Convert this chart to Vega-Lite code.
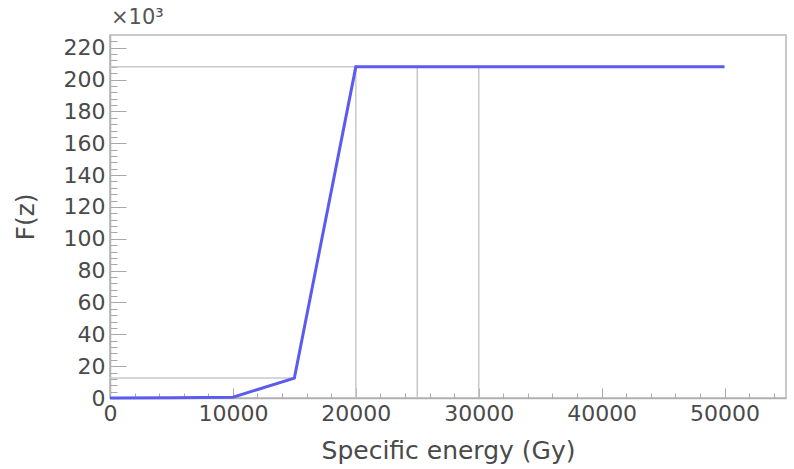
{
  "$schema": "https://vega.github.io/schema/vega-lite/v6.json",
  "width": 676,
  "height": 363,
  "autosize": {"type": "none"},
  "padding": {"left": 110, "top": 35, "right": 8, "bottom": 71},
  "background": "white",
  "title": {"text": "×10³", "anchor": "start", "frame": "group", "font": "DejaVu Sans", "fontSize": 21, "fontWeight": "normal", "color": "#555555", "offset": 2, "dx": 1},
  "config": {
    "view": {"stroke": "#b8b8b8", "strokeWidth": 1.5},
    "axis": {"grid": false, "domainColor": "#b0b0b0", "domainWidth": 1.5, "tickColor": "#a8a8a8", "tickWidth": 1, "labelFont": "DejaVu Sans", "labelFontSize": 22, "labelColor": "#4a4a4a", "titleFont": "DejaVu Sans", "titleFontSize": 25, "titleFontWeight": "normal", "titleColor": "#4a4a4a"}
  },
  "datasets": {
    "curve": [
      {"z": 0, "F": 0},
      {"z": 5000, "F": 200},
      {"z": 10000, "F": 500},
      {"z": 15000, "F": 12500},
      {"z": 20000, "F": 208000},
      {"z": 25000, "F": 208000},
      {"z": 30000, "F": 208000},
      {"z": 35000, "F": 208000},
      {"z": 40000, "F": 208000},
      {"z": 45000, "F": 208000},
      {"z": 50000, "F": 208000}
    ],
    "hlines": [
      {"z": 0, "z2": 20000, "F": 208000},
      {"z": 0, "z2": 15000, "F": 12500}
    ],
    "vlines": [
      {"z": 20000, "F": 0, "F2": 208000},
      {"z": 25000, "F": 0, "F2": 208000},
      {"z": 30000, "F": 0, "F2": 208000}
    ]
  },
  "layer": [
    {
      "data": {"name": "hlines"},
      "mark": {"type": "rule", "color": "#c8c8c8", "strokeWidth": 1.5},
      "encoding": {
        "x": {"field": "z", "type": "quantitative"},
        "x2": {"field": "z2"},
        "y": {"field": "F", "type": "quantitative"}
      }
    },
    {
      "data": {"name": "vlines"},
      "mark": {"type": "rule", "color": "#c8c8c8", "strokeWidth": 1.5},
      "encoding": {
        "x": {"field": "z", "type": "quantitative"},
        "y": {"field": "F", "type": "quantitative"},
        "y2": {"field": "F2"}
      }
    },
    {
      "data": {"name": "curve"},
      "mark": {"type": "line", "color": "#5b5bee", "strokeWidth": 3, "strokeJoin": "miter"},
      "encoding": {
        "x": {
          "field": "z", "type": "quantitative",
          "scale": {"domain": [0, 55000], "nice": false, "zero": false},
          "title": "Specific energy (Gy)",
          "axis": {
            "values": [0,2000,4000,6000,8000,10000,12000,14000,16000,18000,20000,22000,24000,26000,28000,30000,32000,34000,36000,38000,40000,42000,44000,46000,48000,50000,52000,54000],
            "tickCount": 200,
            "format": "d",
            "labelExpr": "datum.value % 10000 === 0 ? datum.label : ''",
            "tickSize": {"condition": {"test": "datum.value % 10000 === 0", "value": -10}, "value": -5},
            "labelPadding": 15,
            "labelOverlap": false,
            "labelFlush": false,
            "titlePadding": 9
          }
        },
        "y": {
          "field": "F", "type": "quantitative",
          "scale": {"domain": [0, 228000], "nice": false, "zero": false},
          "title": "F(z)",
          "axis": {
            "values": [0,4000,8000,12000,16000,20000,24000,28000,32000,36000,40000,44000,48000,52000,56000,60000,64000,68000,72000,76000,80000,84000,88000,92000,96000,100000,104000,108000,112000,116000,120000,124000,128000,132000,136000,140000,144000,148000,152000,156000,160000,164000,168000,172000,176000,180000,184000,188000,192000,196000,200000,204000,208000,212000,216000,220000,224000],
            "tickCount": 200,
            "labelExpr": "datum.value % 20000 === 0 ? format(datum.value / 1000, 'd') : ''",
            "tickSize": {"condition": {"test": "datum.value % 20000 === 0", "value": -16}, "value": -7},
            "labelPadding": 21,
            "labelOverlap": false,
            "labelFlush": false,
            "titlePadding": 25
          }
        }
      }
    }
  ]
}
